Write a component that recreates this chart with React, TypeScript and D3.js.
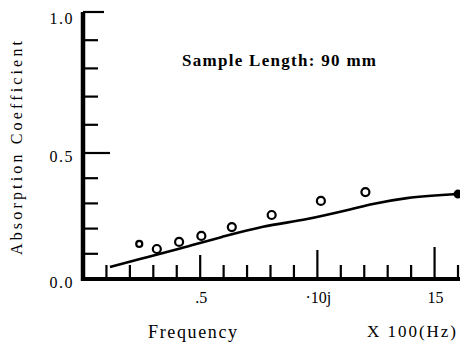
import React from "react";
import * as d3 from "d3";

const freqPts = [2.4, 3.15, 4.1, 5.05, 6.35, 8.05, 10.15, 12.05];
const absPts = [0.139, 0.119, 0.147, 0.171, 0.206, 0.254, 0.31, 0.345];

const curveFreq = [1.15, 2.43, 4.14, 5.93, 7.68, 9.56, 11.39, 12.37, 13.82, 16.0];
const curveAbs = [0.048, 0.079, 0.121, 0.167, 0.207, 0.238, 0.276, 0.298, 0.321, 0.337];

const xTickValues = d3.range(1, 17);
const xTickLabels: Record<number, string> = { 5: ".5", 10: "·10j", 15: "15" };
const yTickValues = d3.range(1, 11).map((d) => d / 10);
const yTickLabels: Record<string, string> = { "0": "0.0", "0.5": "0.5", "1": "1.0" };

const W = 460;
const H = 347;

export default function App() {
  const x = d3.scaleLinear().domain([0, 16]).range([83, 458]);
  const y = d3.scaleLinear().domain([0, 0.5, 1]).range([279, 153, 12]);

  const line = d3
    .line<number>()
    .x((_, i) => x(curveFreq[i]))
    .y((d) => y(d))
    .curve(d3.curveMonotoneX);

  const serif = "Liberation Serif, Times New Roman, DejaVu Serif, serif";

  return (
    <svg
      width={W}
      height={H}
      style={{ position: "absolute", left: 0, top: 0, background: "#fff", fontFamily: serif }}
    >
      <rect width={W} height={H} fill="#fff" />
      {/* y axis */}
      <line x1={x(0)} x2={x(0)} y1={y(1)} y2={y(0) + 2} stroke="#000" strokeWidth={4.5} />
      {yTickValues.map((v) => {
        const len = v === 0.5 ? 27 : v === 1 ? 21 : 15;
        return (
          <line key={v} x1={x(0)} x2={x(0) + len} y1={y(v)} y2={y(v)} stroke="#000" strokeWidth={2.2} />
        );
      })}
      {/* x axis */}
      <line x1={x(0) - 2} x2={W} y1={y(0)} y2={y(0)} stroke="#000" strokeWidth={4} />
      {xTickValues.map((v) => {
        const len = v === 5 ? 24 : v === 10 ? 29 : v === 15 ? 32 : 14;
        return (
          <line key={v} x1={x(v)} x2={x(v)} y1={y(0)} y2={y(0) - len} stroke="#000" strokeWidth={2.2} />
        );
      })}
      {/* y tick labels */}
      <text x={74} y={24} textAnchor="end" fontSize={16} letterSpacing={1.5} style={{ fontFamily: serif }}>{yTickLabels["1"]}</text>
      <text x={74} y={162} textAnchor="end" fontSize={16} letterSpacing={1.5} style={{ fontFamily: serif }}>{yTickLabels["0.5"]}</text>
      <text x={74} y={288} textAnchor="end" fontSize={16} letterSpacing={1.5} style={{ fontFamily: serif }}>{yTickLabels["0"]}</text>
      {/* x tick labels */}
      {Object.keys(xTickLabels).map((k) => {
        const v = +k;
        return (
          <text key={k} x={x(v) + 1} y={303} textAnchor="middle" fontSize={16} style={{ fontFamily: serif }}>
            {xTickLabels[v]}
          </text>
        );
      })}
      {/* axis titles */}
      <text
        transform="translate(22,148) rotate(-90)"
        textAnchor="middle"
        fontSize={16}
        textLength={214}
        lengthAdjust="spacing"
        style={{ fontFamily: serif }}
      >
        Absorption Coefficient
      </text>
      <text x={148} y={338} fontSize={18} textLength={89} lengthAdjust="spacing" style={{ fontFamily: serif }}>
        Frequency
      </text>
      <text x={367} y={337} fontSize={17} textLength={89} lengthAdjust="spacing" style={{ fontFamily: serif }}>
        X 100(Hz)
      </text>
      {/* annotation */}
      <text x={182} y={66} fontSize={17} fontWeight="bold" textLength={194} lengthAdjust="spacing" style={{ fontFamily: serif }}>
        Sample Length: 90 mm
      </text>
      {/* curve */}
      <path d={line(curveAbs) || ""} fill="none" stroke="#000" strokeWidth={2.6} />
      <circle cx={x(curveFreq[curveFreq.length - 1])} cy={y(curveAbs[curveAbs.length - 1])} r={4.5} fill="#000" />
      {/* measured points */}
      {freqPts.map((f, i) => (
        <circle
          key={i}
          cx={x(f)}
          cy={y(absPts[i])}
          r={i === 0 ? 3 : 4}
          fill="none"
          stroke="#000"
          strokeWidth={2.2}
        />
      ))}
    </svg>
  );
}
